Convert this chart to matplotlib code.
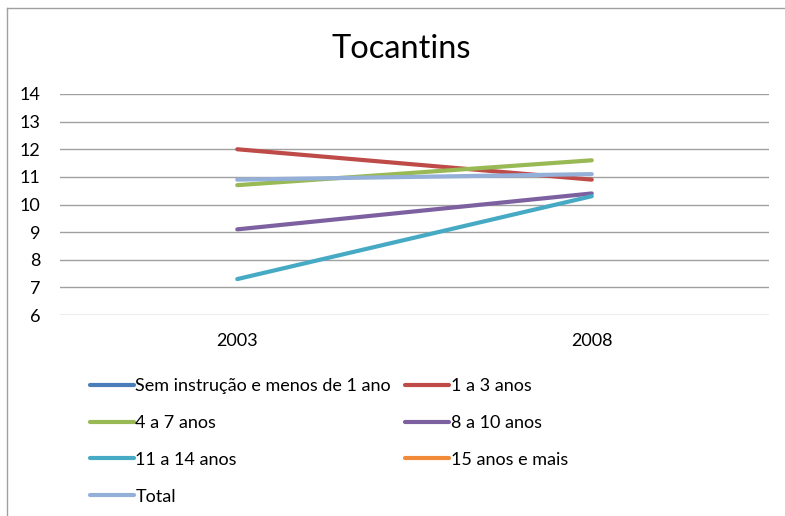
import numpy as np
import matplotlib
matplotlib.use("Agg")
import matplotlib.pyplot as plt
from matplotlib.lines import Line2D

years = ["2003", "2008"]
series_names = ["Sem instrução e menos de 1 ano", "1 a 3 anos", "4 a 7 anos",
                "8 a 10 anos", "11 a 14 anos", "15 anos e mais", "Total"]
sem_instrucao = [np.nan, np.nan]
anos_1_3 = [12.0, 10.9]
anos_4_7 = [10.7, 11.6]
anos_8_10 = [9.1, 10.4]
anos_11_14 = [7.3, 10.3]
anos_15_mais = [np.nan, np.nan]
total = [10.9, 11.1]
values = [sem_instrucao, anos_1_3, anos_4_7, anos_8_10, anos_11_14, anos_15_mais, total]
colors = ["#4A7EBB", "#BE4B48", "#98B954", "#7D60A0", "#46AAC5", "#F28B39", "#95B0D8"]
yticks = list(range(6, 15))

plt.rcParams['font.family'] = ['Lato', 'DejaVu Sans']

fig = plt.figure(figsize=(7.85, 5.16), dpi=100)
ax = fig.add_axes([60/785, 1-315/516, (769-60)/785, (315-94)/516])

x = np.arange(len(years))
handles = []
for name, vals, c in zip(series_names, values, colors):
    h, = ax.plot(x, vals, color=c, lw=3.0, solid_capstyle='round', label=name)
    handles.append(h)

ax.set_xlim(-0.5, 1.5)
ax.set_ylim(6, 14)
ax.set_yticks(yticks)
ax.set_yticklabels([str(t) for t in yticks], fontsize=13)
ax.set_xticks(x)
ax.set_xticklabels(years, fontsize=13)
ax.grid(axis='y', color='#A0A0A0', lw=1.0)
ax.set_axisbelow(True)
for s in ax.spines.values():
    s.set_visible(False)
ax.tick_params(axis='both', length=0)
ax.tick_params(axis='y', pad=14)
ax.tick_params(axis='x', pad=13)

fig.text(401/785, 1-49/516, "Tocantins", ha='center', va='center', fontsize=23.5)

# legend ordered row-major like the reference (matplotlib fills column-major)
order = [0, 2, 4, 6, 1, 3, 5]
leg = fig.legend([handles[i] for i in order], [series_names[i] for i in order],
                 ncol=2, loc='upper left', bbox_to_anchor=(83/785, 1-371/516),
                 frameon=False, fontsize=13, handlelength=2.4, handletextpad=0.1,
                 columnspacing=0.8, labelspacing=1.15, borderaxespad=0)

# chart border
fig.add_artist(Line2D([7/785, 7/785], [0, 1-8/516], transform=fig.transFigure, color='#A0A0A0', lw=1))
fig.add_artist(Line2D([7/785, 1], [1-8/516, 1-8/516], transform=fig.transFigure, color='#A0A0A0', lw=1))

fig.savefig("out.png", dpi=100)
